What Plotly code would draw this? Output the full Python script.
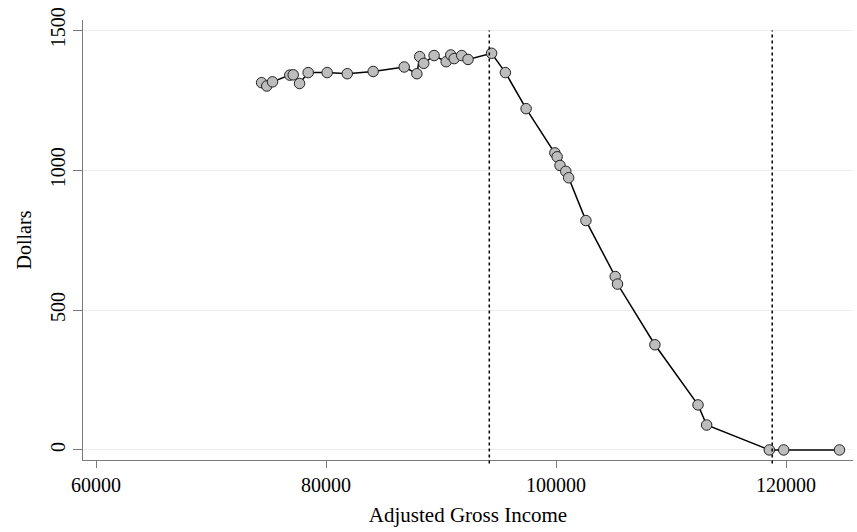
import plotly.graph_objects as go

# benefit schedule (income, dollars)
agi = [74400, 74850, 75350, 76850, 77150, 77700, 78450, 80100, 81850, 84100,
       86800, 87900, 88150, 88500, 89400, 90450, 90850, 91150, 91800, 92350,
       94400, 95600, 97400, 99900, 100100, 100350, 100850, 101100, 102600,
       105150, 105350, 108600, 112350, 113100, 118550, 119800, 124650]
dollars = [1313, 1301, 1316, 1340, 1341, 1310, 1349, 1349, 1345, 1353,
           1369, 1345, 1406, 1382, 1410, 1388, 1412, 1399, 1410, 1396,
           1418, 1349, 1220, 1062, 1048, 1017, 996, 973, 820,
           620, 593, 376, 161, 89, 0, 0, 0]

# phase-in / phase-out markers
cutoffs = [94200, 118800]

x_ticks = [60000, 80000, 100000, 120000]
y_ticks = [0, 500, 1000, 1500]

serif = 'Liberation Serif'

fig = go.Figure()

fig.add_trace(go.Scatter(
    x=agi, y=dollars,
    mode='lines+markers',
    line=dict(color='black', width=1.5),
    marker=dict(size=10.5, color='#bdbdbd', line=dict(color='#222222', width=1)),
    showlegend=False,
))

for c in cutoffs:
    fig.add_shape(type='line', xref='x', yref='paper',
                  x0=c, x1=c, y0=-0.008, y1=0.976,
                  line=dict(color='black', width=1.5, dash='dot'))

fig.update_layout(
    width=857, height=532,
    margin=dict(l=83, r=4, t=20, b=72),
    paper_bgcolor='white',
    plot_bgcolor='white',
    font=dict(family=serif, size=20, color='black'),
)

fig.update_xaxes(
    range=[58870, 125826],
    tickvals=x_ticks,
    ticktext=[str(v) for v in x_ticks],
    showgrid=False, zeroline=False,
    showline=True, linecolor='#7a7a7a', linewidth=1,
    ticks='outside', ticklen=7, tickcolor='#7a7a7a',
    tickfont=dict(family=serif, size=20),
    title=dict(text='Adjusted Gross Income', font=dict(family=serif, size=21), standoff=12),
)

fig.update_yaxes(
    range=[-36, 1537],
    tickvals=y_ticks,
    ticktext=[str(v) for v in y_ticks],
    tickangle=-90,
    showgrid=True, gridcolor='#ececec', gridwidth=1,
    zeroline=False,
    showline=True, linecolor='#7a7a7a', linewidth=1,
    ticks='outside', ticklen=9, tickcolor='#7a7a7a',
    tickfont=dict(family=serif, size=20),
    title=dict(text='Dollars', font=dict(family=serif, size=20), standoff=10),
)

# page body has a default 8px margin, drop it so the figure fills the window
fig.write_html('out.html', config={'displayModeBar': False},
               post_script="document.body.style.margin='0';")
